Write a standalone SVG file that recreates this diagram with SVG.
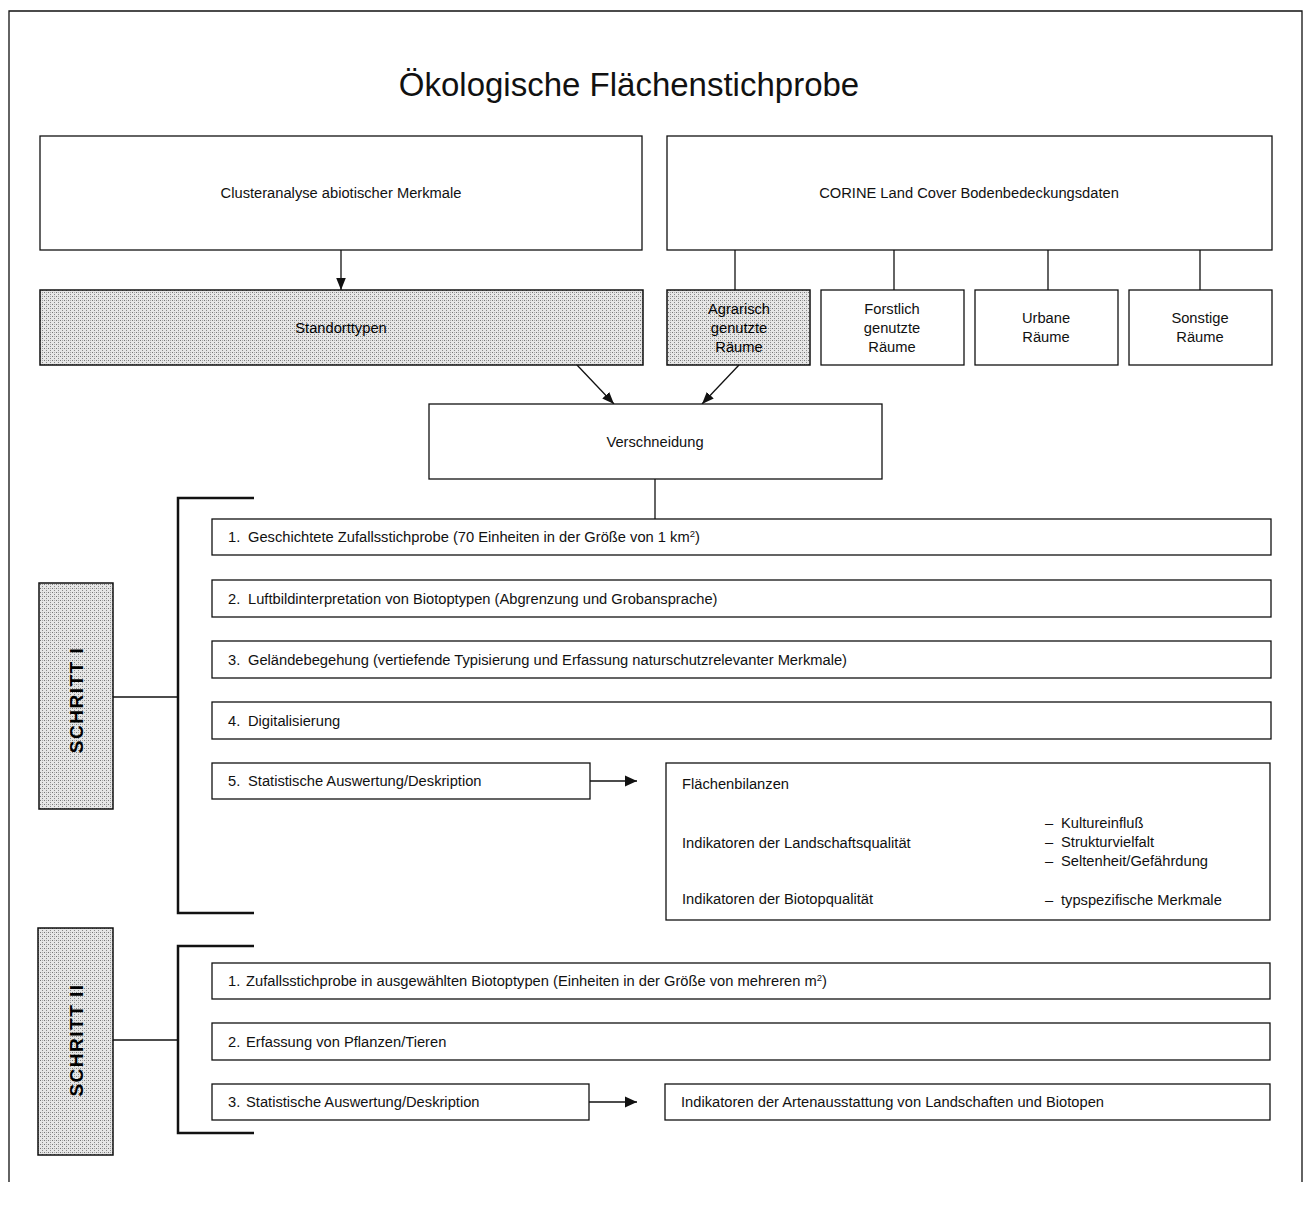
<svg xmlns="http://www.w3.org/2000/svg" width="1306" height="1205" viewBox="0 0 1306 1205">
<style>
  text { font-family: "Liberation Sans", Arial, sans-serif; font-size: 14.7px; fill: #111; }
  .c { text-anchor: middle; }
  .box { fill: #fff; stroke: #111; stroke-width: 1.3; }
  .stip { fill: url(#dots); stroke: #111; stroke-width: 1.5; }
  .dk { fill: #000; }
  .ln { stroke: #111; stroke-width: 1.3; fill: none; }
  .br { stroke: #111; stroke-width: 2.5; fill: none; }
  .title { font-size: 33px; }
  .vert { font-size: 19px; font-weight: bold; letter-spacing: 1.5px; }
</style>
<defs>
  <pattern id="dots" width="4" height="4" patternUnits="userSpaceOnUse">
    <rect width="4" height="4" fill="#e6e6e6"/>
    <rect x="0" y="0" width="1" height="1" fill="#777"/>
    <rect x="2" y="2" width="1" height="1" fill="#888"/>
    <rect x="2" y="0" width="1" height="1" fill="#aaa"/>
  </pattern>
  <marker id="ah" viewBox="0 0 10 10" refX="10" refY="5" markerWidth="12" markerHeight="12" markerUnits="userSpaceOnUse" orient="auto">
    <path d="M0,0.5 L10,5 L0,9.5 z" fill="#111"/>
  </marker>
  <marker id="ahs" viewBox="0 0 10 10" refX="10" refY="5" markerWidth="12" markerHeight="12" markerUnits="userSpaceOnUse" orient="auto">
    <path d="M0,1 L10,5 L0,9 z" fill="#111"/>
  </marker>
</defs>
<rect width="1306" height="1205" fill="#fff"/>
<path class="ln" d="M9,1182 V11 H1302 V1182" stroke-width="1.5"/>
<text class="title c" x="629" y="96">Ökologische Flächenstichprobe</text>

<g id="connectors">
  <line class="ln" x1="341" y1="250" x2="341" y2="290" marker-end="url(#ahs)"/>
  <line class="ln" x1="735" y1="250" x2="735" y2="290"/>
  <line class="ln" x1="894" y1="250" x2="894" y2="290"/>
  <line class="ln" x1="1048" y1="250" x2="1048" y2="290"/>
  <line class="ln" x1="1200" y1="250" x2="1200" y2="290"/>
  <line class="ln" x1="577" y1="365" x2="614" y2="404" marker-end="url(#ahs)"/>
  <line class="ln" x1="739" y1="365" x2="702" y2="404" marker-end="url(#ahs)"/>
  <line class="ln" x1="655" y1="479" x2="655" y2="519"/>
  <path class="br" d="M254,498 H178 V913 H254"/>
  <line class="ln" x1="113" y1="697" x2="178" y2="697"/>
  <path class="br" d="M254,946 H178 V1133 H254"/>
  <line class="ln" x1="113" y1="1040" x2="178" y2="1040"/>
  <line class="ln" x1="590" y1="781" x2="637" y2="781" marker-end="url(#ah)"/>
  <line class="ln" x1="950" y1="843" x2="1008" y2="843" marker-end="url(#ah)"/>
  <line class="ln" x1="589" y1="1102" x2="637" y2="1102" marker-end="url(#ah)"/>
</g>

<g id="cluster"><rect class="box" x="40" y="136" width="602" height="114"/><text class="c" x="341" y="198">Clusteranalyse abiotischer Merkmale</text></g>
<g id="corine"><rect class="box" x="667" y="136" width="605" height="114"/><text class="c" x="969" y="198">CORINE Land Cover Bodenbedeckungsdaten</text></g>
<g id="standorttypen"><rect class="stip" x="40" y="290" width="603" height="75"/><text class="c dk" x="341" y="333">Standorttypen</text></g>
<g id="agrarisch"><rect class="stip" x="667" y="290" width="143" height="75"/><text class="c dk" x="739" y="314">Agrarisch</text><text class="c dk" x="739" y="333">genutzte</text><text class="c dk" x="739" y="352">Räume</text></g>
<g id="forstlich"><rect class="box" x="821" y="290" width="143" height="75"/><text class="c" x="892" y="314">Forstlich</text><text class="c" x="892" y="333">genutzte</text><text class="c" x="892" y="352">Räume</text></g>
<g id="urbane"><rect class="box" x="975" y="290" width="143" height="75"/><text class="c" x="1046" y="323">Urbane</text><text class="c" x="1046" y="342">Räume</text></g>
<g id="sonstige"><rect class="box" x="1129" y="290" width="143" height="75"/><text class="c" x="1200" y="323">Sonstige</text><text class="c" x="1200" y="342">Räume</text></g>
<g id="verschneidung"><rect class="box" x="429" y="404" width="453" height="75"/><text class="c" x="655" y="447">Verschneidung</text></g>

<g id="schritt1"><rect class="stip" x="39" y="583" width="74" height="226"/><text class="vert c dk" transform="translate(83,700) rotate(-90)">SCHRITT I</text></g>
<g id="s1-1"><rect class="box" x="212" y="519" width="1059" height="36"/><text x="228" y="542">1.<tspan x="248">Geschichtete Zufallsstichprobe (70 Einheiten in der Größe von 1 km</tspan><tspan font-size="9.5" dy="-5">2</tspan><tspan dy="5">)</tspan></text></g>
<g id="s1-2"><rect class="box" x="212" y="580" width="1059" height="37"/><text x="228" y="604">2.<tspan x="248">Luftbildinterpretation von Biotoptypen (Abgrenzung und Grobansprache)</tspan></text></g>
<g id="s1-3"><rect class="box" x="212" y="641" width="1059" height="37"/><text x="228" y="665">3.<tspan x="248">Geländebegehung (vertiefende Typisierung und Erfassung naturschutzrelevanter Merkmale)</tspan></text></g>
<g id="s1-4"><rect class="box" x="212" y="702" width="1059" height="37"/><text x="228" y="726">4.<tspan x="248">Digitalisierung</tspan></text></g>
<g id="s1-5"><rect class="box" x="212" y="763" width="378" height="36"/><text x="228" y="786">5.<tspan x="248">Statistische Auswertung/Deskription</tspan></text></g>
<g id="result1"><rect class="box" x="666" y="763" width="604" height="157"/>
  <text x="682" y="789">Flächenbilanzen</text>
  <text x="682" y="848">Indikatoren der Landschaftsqualität</text>
  <text x="1045" y="828">–<tspan x="1061">Kultureinfluß</tspan></text>
  <text x="1045" y="847">–<tspan x="1061">Strukturvielfalt</tspan></text>
  <text x="1045" y="866">–<tspan x="1061">Seltenheit/Gefährdung</tspan></text>
  <text x="682" y="904">Indikatoren der Biotopqualität</text>
  <text x="1045" y="905">–<tspan x="1061">typspezifische Merkmale</tspan></text>
</g>

<g id="schritt2"><rect class="stip" x="38" y="928" width="75" height="227"/><text class="vert c dk" transform="translate(83,1040) rotate(-90)">SCHRITT II</text></g>
<g id="s2-1"><rect class="box" x="212" y="963" width="1058" height="36"/><text x="228" y="986">1.<tspan x="246">Zufallsstichprobe in ausgewählten Biotoptypen (Einheiten in der Größe von mehreren m</tspan><tspan font-size="9.5" dy="-5">2</tspan><tspan dy="5">)</tspan></text></g>
<g id="s2-2"><rect class="box" x="212" y="1023" width="1058" height="37"/><text x="228" y="1047">2.<tspan x="246">Erfassung von Pflanzen/Tieren</tspan></text></g>
<g id="s2-3"><rect class="box" x="212" y="1084" width="377" height="36"/><text x="228" y="1107">3.<tspan x="246">Statistische Auswertung/Deskription</tspan></text></g>
<g id="result2"><rect class="box" x="665" y="1084" width="605" height="36"/><text x="681" y="1107">Indikatoren der Artenausstattung von Landschaften und Biotopen</text></g>
</svg>
